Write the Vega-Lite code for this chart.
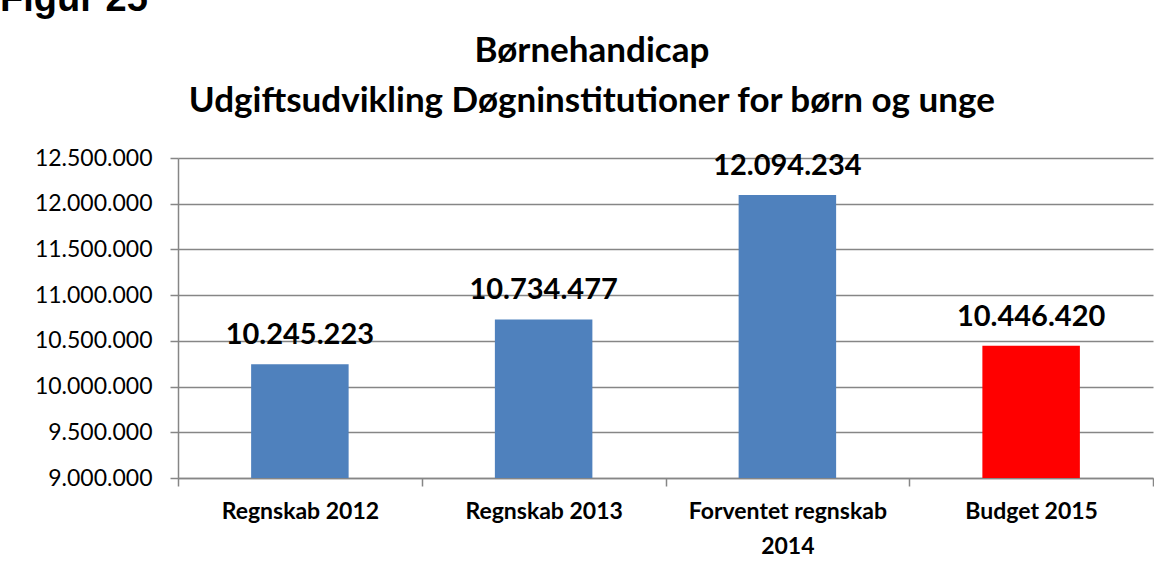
{
  "$schema": "https://vega.github.io/schema/vega-lite/v6.json",
  "padding": {"left": 0, "top": -19, "right": 0, "bottom": 0},
  "background": "white",
  "title": {"text": "Figur 25", "anchor": "start", "frame": "group", "dx": -178, "font": "Liberation Sans", "fontSize": 38, "fontWeight": "bold", "color": "black", "offset": 15},
  "vconcat": [
    {
      "width": 975,
      "height": 320,
      "title": {"text": ["Børnehandicap", "Udgiftsudvikling Døgninstitutioner for børn og unge"], "font": "Lato", "fontSize": 35, "fontWeight": "bold", "color": "black", "lineHeight": 50, "offset": 28, "anchor": "middle", "frame": "bounds", "dx": 12},
      "data": {"values": [
        {"kategori": "Regnskab 2012", "beloeb": 10245223, "type": "regnskab"},
        {"kategori": "Regnskab 2013", "beloeb": 10734477, "type": "regnskab"},
        {"kategori": "Forventet regnskab 2014", "beloeb": 12094234, "type": "regnskab"},
        {"kategori": "Budget 2015", "beloeb": 10446420, "type": "budget"}
      ]},
      "encoding": {
        "x": {"field": "kategori", "type": "nominal", "sort": null,
          "scale": {"paddingInner": 0, "paddingOuter": 0},
          "axis": {"title": null, "labelAngle": 0, "labelFont": "Lato", "labelFontSize": 23, "labelFontWeight": "bold", "labelColor": "black", "labelLimit": 400, "tickBand": "extent", "ticks": true, "tickSize": 8, "labelPadding": 14, "labelLineHeight": 35, "grid": false,
            "labelExpr": "datum.value == 'Forventet regnskab 2014' ? ['Forventet regnskab', '2014'] : datum.label"}}
      },
      "layer": [
        {
          "mark": {"type": "bar", "width": {"band": 0.4}},
          "encoding": {
            "y": {"field": "beloeb", "type": "quantitative",
              "scale": {"domain": [9000000, 12500000], "zero": false, "nice": false},
              "axis": {"title": null, "values": [9000000, 9500000, 10000000, 10500000, 11000000, 11500000, 12000000, 12500000], "format": ",.0f", "labelFont": "Lato", "labelFontSize": 23, "labelColor": "black", "tickSize": 8, "labelPadding": 18, "minExtent": 172, "grid": true}},
            "y2": {"datum": 9000000},
            "color": {"field": "type", "type": "nominal", "scale": {"domain": ["regnskab", "budget"], "range": ["#4F81BD", "#FF0000"]}, "legend": null}
          }
        },
        {
          "mark": {"type": "text", "baseline": "bottom", "dy": -14, "font": "Lato", "fontSize": 29, "fontWeight": "bold", "color": "black"},
          "encoding": {
            "y": {"field": "beloeb", "type": "quantitative"},
            "text": {"field": "beloeb", "type": "quantitative", "format": ",.0f"}
          }
        }
      ]
    }
  ],
  "config": {
    "locale": {"number": {"decimal": ",", "thousands": ".", "grouping": [3], "currency": ["", " kr."]}},
    "view": {"stroke": null},
    "axis": {"domainColor": "#868686", "domainWidth": 1.5, "tickColor": "#868686", "tickWidth": 1.5, "gridColor": "#868686", "gridWidth": 1.5, "gridOpacity": 1}
  }
}
